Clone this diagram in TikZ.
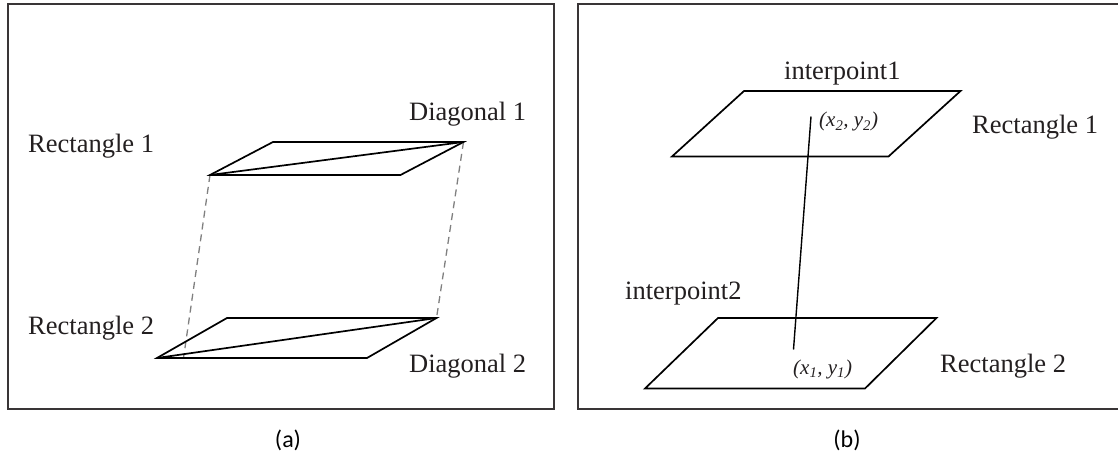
\documentclass[tikz,border=0pt]{standalone}
\usepackage{fontspec}
\setmainfont{Liberation Serif}
\newfontfamily\capfont{Carlito}
\definecolor{ink}{HTML}{231F20}
\tikzset{
  panel/.style={draw=ink!90, line width=1.6pt},
  plane/.style={draw=black, line width=1.7pt, line join=miter},
  guide/.style={draw=black!50, line width=1.3pt, dash pattern=on 7pt off 5pt},
  link/.style={draw=black, line width=1.4pt},
  lbl/.style={inner sep=0pt, anchor=base west, text=ink, font=\fontsize{26.5}{30}\selectfont},
  coordlbl/.style={inner sep=0pt, anchor=base west, text=ink, font=\fontsize{21}{25}\selectfont\itshape},
  captionlbl/.style={inner sep=0pt, anchor=center, text=black, font=\capfont\fontsize{24}{28}\selectfont}
}
\begin{document}
\begin{tikzpicture}[x=1pt,y=-1pt]
\useasboundingbox (0,0) rectangle (1118,457);
% panel frames
\draw[panel] (8,4) rectangle (554,409);
\draw[panel] (578,4) rectangle (1121,409);

% ---------- (a) ----------
\coordinate (a1tl) at (273,142);
\coordinate (a1tr) at (463.5,142);
\coordinate (a1br) at (400.5,175);
\coordinate (a1bl) at (210,175);
\coordinate (a2tl) at (227,318);
\coordinate (a2tr) at (436.5,318);
\coordinate (a2br) at (367,358);
\coordinate (a2bl) at (157,358);
\coordinate (a2foot) at (183.5,358);

\draw[guide] (a1bl) -- (a2foot);
\draw[guide] (a1tr) -- (a2tr);
\draw[plane] (a1tl) -- (a1tr) -- (a1br) -- (a1bl) -- cycle;
\draw[plane] (a1bl) -- (a1tr);
\draw[plane] (a2tl) -- (a2tr) -- (a2br) -- (a2bl) -- cycle;
\draw[plane] (a2bl) -- (a2tr);

\node[lbl] (ar1) at (28,153) {Rectangle 1};
\node[lbl] (ad1) at (409,121) {Diagonal 1};
\node[lbl] (ar2) at (28,334) {Rectangle 2};
\node[lbl] (ad2) at (409,372) {Diagonal 2};
\node[captionlbl] (capa) at (288,440) {(a)};

% ---------- (b) ----------
\coordinate (b1tl) at (744,91);
\coordinate (b1tr) at (960.5,91);
\coordinate (b1br) at (888.5,156.5);
\coordinate (b1bl) at (672,156.5);
\coordinate (b2tl) at (718,318);
\coordinate (b2tr) at (936.5,318);
\coordinate (b2br) at (865,388.5);
\coordinate (b2bl) at (645,388.5);
\coordinate (pt2) at (811,116.5);
\coordinate (pt1) at (793.5,349.5);

\draw[plane] (b1tl) -- (b1tr) -- (b1br) -- (b1bl) -- cycle;
\draw[plane] (b2tl) -- (b2tr) -- (b2br) -- (b2bl) -- cycle;
\draw[link] (pt2) -- (pt1);

\node[lbl] (ip1) at (784,80) {interpoint1};
\node[coordlbl] (c2) at (819,127) {(x\textsubscript{2}, y\textsubscript{2})};
\node[lbl] (br1) at (972,134) {Rectangle 1};
\node[lbl] (ip2) at (625,299) {interpoint2};
\node[coordlbl] (c1) at (793,374) {(x\textsubscript{1}, y\textsubscript{1})};
\node[lbl] (br2) at (940,372) {Rectangle 2};
\node[captionlbl] (capb) at (847,440) {(b)};
\end{tikzpicture}
\end{document}
